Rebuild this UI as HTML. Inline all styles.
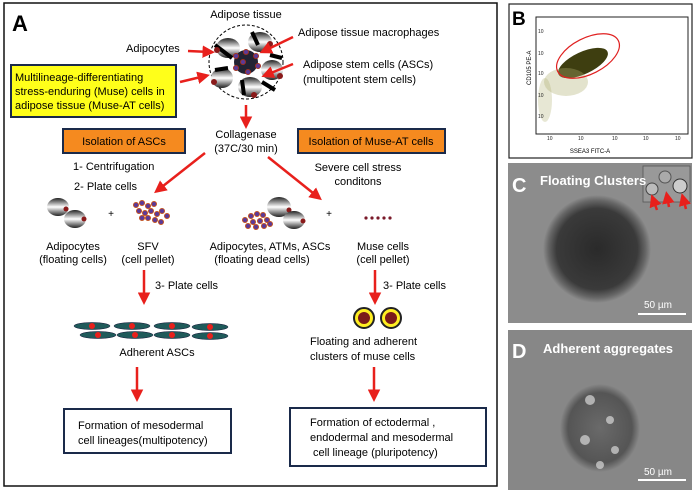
<!DOCTYPE html>
<html><head><meta charset="utf-8"><style>
html,body{margin:0;padding:0;background:#fff;}
svg{display:block;font-family:"Liberation Sans",Arial,sans-serif;}
</style></head><body>
<svg width="697" height="493" viewBox="0 0 697 493" xmlns="http://www.w3.org/2000/svg">
<defs>
<marker id="ah" markerWidth="5" markerHeight="5" refX="3" refY="2.5" orient="auto" markerUnits="strokeWidth">
<path d="M0,0 L5,2.5 L0,5 z" fill="#e8201c"/></marker>
<linearGradient id="sph" x1="0" y1="0" x2="0" y2="1">
<stop offset="0" stop-color="#222"/><stop offset="0.5" stop-color="#fff"/><stop offset="1" stop-color="#222"/></linearGradient>
<radialGradient id="blobC" cx="0.5" cy="0.5" r="0.5">
<stop offset="0" stop-color="#2a2a2a"/><stop offset="0.75" stop-color="#3a3a3a"/><stop offset="0.9" stop-color="#666"/><stop offset="1" stop-color="#8c8c8c"/></radialGradient>
<radialGradient id="blobD" cx="0.5" cy="0.5" r="0.5">
<stop offset="0" stop-color="#6a6a6a"/><stop offset="0.8" stop-color="#555"/><stop offset="1" stop-color="#878787"/></radialGradient>
</defs>
<rect x="4" y="3" width="493" height="483" fill="#fff" stroke="#111" stroke-width="1.5"/>
<text x="12" y="31" font-size="22" font-weight="bold">A</text>
<g font-size="11" fill="#000">
<text x="246" y="18" text-anchor="middle">Adipose tissue</text>
<text x="298" y="36">Adipose tissue  macrophages</text>
<text x="126" y="52">Adipocytes</text>
<text x="303" y="68">Adipose stem cells (ASCs)</text>
<text x="303" y="83">(multipotent stem cells)</text>
</g>
<circle cx="246" cy="62" r="37" fill="#fff" stroke="#000" stroke-dasharray="3,2"/>
<g>
<ellipse cx="228" cy="48" rx="12" ry="10" fill="url(#sph)"/>
<ellipse cx="260" cy="42" rx="12" ry="10" fill="url(#sph)"/>
<ellipse cx="272" cy="70" rx="11" ry="10" fill="url(#sph)"/>
<ellipse cx="250" cy="87" rx="12" ry="10" fill="url(#sph)"/>
<ellipse cx="222" cy="78" rx="11" ry="10" fill="url(#sph)"/>
<path d="M252,32 L258,45 M215,45 L232,58 M270,55 L282,58 M262,82 L275,90 M228,68 L215,70 M244,95 L242,80" stroke="#000" stroke-width="4"/>
<circle cx="246" cy="62" r="12" fill="#223" />
<g fill="#5a3a9a" stroke="#a03020" stroke-width="1">
<circle cx="236" cy="56" r="2.5"/><circle cx="246" cy="52" r="2.5"/><circle cx="256" cy="56" r="2.5"/><circle cx="258" cy="66" r="2.5"/><circle cx="248" cy="72" r="2.5"/><circle cx="236" cy="68" r="2.5"/><circle cx="243" cy="62" r="2.5"/>
</g>
<g fill="#8a1a1a"><circle cx="217" cy="50" r="3"/><circle cx="270" cy="44" r="3"/><circle cx="280" cy="76" r="3"/><circle cx="254" cy="95" r="3"/><circle cx="214" cy="82" r="3"/></g>
</g>
<g stroke="#e8201c" stroke-width="2.5" fill="none" marker-end="url(#ah)">
<line x1="188" y1="51" x2="210" y2="52"/>
<line x1="293" y1="37" x2="264" y2="51"/>
<line x1="293" y1="64" x2="266" y2="75"/>
<line x1="180" y1="82" x2="205" y2="76"/>
<line x1="246" y1="105" x2="246" y2="124"/>
<line x1="205" y1="153" x2="158" y2="190"/>
<line x1="268" y1="157" x2="318" y2="197"/>
<line x1="144" y1="270" x2="144" y2="300"/>
<line x1="375" y1="270" x2="375" y2="300"/>
<line x1="137" y1="367" x2="137" y2="397"/>
<line x1="374" y1="367" x2="374" y2="397"/>
</g>
<rect x="11" y="65" width="165" height="52" fill="#ffff1a" stroke="#1a2a4a" stroke-width="2"/>
<g font-size="11"><text x="15" y="81">Multilineage-differentiating</text>
<text x="15" y="95">stress-enduring (Muse) cells in</text>
<text x="15" y="109">adipose tissue (Muse-AT cells)</text></g>
<text x="246" y="138" font-size="11" text-anchor="middle">Collagenase</text>
<text x="246" y="152" font-size="11" text-anchor="middle">(37C/30 min)</text>
<rect x="63" y="129" width="122" height="24" fill="#f58a1f" stroke="#1a2a4a" stroke-width="2"/>
<text x="124" y="145" font-size="11" text-anchor="middle">Isolation of ASCs</text>
<rect x="298" y="129" width="147" height="24" fill="#f58a1f" stroke="#1a2a4a" stroke-width="2"/>
<text x="371" y="145" font-size="11" text-anchor="middle">Isolation of  Muse-AT cells</text>
<g font-size="11">
<text x="73" y="170">1- Centrifugation</text>
<text x="74" y="190">2- Plate cells</text>
<text x="358" y="171" text-anchor="middle">Severe cell stress</text>
<text x="358" y="185" text-anchor="middle">conditons</text>
</g>
<ellipse cx="58" cy="207" rx="11" ry="9" fill="url(#sph)"/><circle cx="66" cy="209" r="2.5" fill="#8a1a1a"/>
<ellipse cx="75" cy="219" rx="11" ry="9" fill="url(#sph)"/><circle cx="84" cy="219" r="2.5" fill="#8a1a1a"/>
<text x="111" y="217" font-size="10" text-anchor="middle">+</text>
<g fill="#5a3a9a" stroke="#c05020" stroke-width="1">
<circle cx="136" cy="205" r="2.5"/><circle cx="142" cy="203" r="2.5"/><circle cx="148" cy="206" r="2.5"/><circle cx="154" cy="204" r="2.5"/><circle cx="139" cy="211" r="2.5"/><circle cx="145" cy="213" r="2.5"/><circle cx="151" cy="211" r="2.5"/><circle cx="157" cy="214" r="2.5"/><circle cx="162" cy="211" r="2.5"/><circle cx="148" cy="218" r="2.5"/><circle cx="155" cy="220" r="2.5"/><circle cx="167" cy="216" r="2.5"/><circle cx="142" cy="218" r="2.5"/><circle cx="161" cy="222" r="2.5"/>
<circle cx="251" cy="216" r="2.5"/><circle cx="257" cy="214" r="2.5"/><circle cx="263" cy="215" r="2.5"/><circle cx="245" cy="220" r="2.5"/><circle cx="253" cy="222" r="2.5"/><circle cx="260" cy="221" r="2.5"/><circle cx="267" cy="220" r="2.5"/><circle cx="248" cy="226" r="2.5"/><circle cx="256" cy="227" r="2.5"/><circle cx="264" cy="226" r="2.5"/><circle cx="270" cy="224" r="2.5"/>
</g>
<ellipse cx="279" cy="207" rx="12" ry="10" fill="url(#sph)"/><circle cx="289" cy="210" r="2.5" fill="#8a1a1a"/>
<ellipse cx="294" cy="220" rx="11" ry="9" fill="url(#sph)"/><circle cx="303" cy="221" r="2.5" fill="#8a1a1a"/>
<text x="329" y="217" font-size="10" text-anchor="middle">+</text>
<g fill="#7a1a2a"><circle cx="366" cy="218" r="1.6"/><circle cx="372" cy="218" r="1.6"/><circle cx="378" cy="218" r="1.6"/><circle cx="384" cy="218" r="1.6"/><circle cx="390" cy="218" r="1.6"/></g>
<g font-size="11" text-anchor="middle">
<text x="73" y="250">Adipocytes</text><text x="73" y="263">(floating cells)</text>
<text x="148" y="250">SFV</text><text x="148" y="263">(cell pellet)</text>
<text x="270" y="250">Adipocytes, ATMs, ASCs</text><text x="262" y="263">(floating dead cells)</text>
<text x="383" y="250">Muse cells</text><text x="383" y="263">(cell pellet)</text>
</g>
<text x="155" y="289" font-size="11">3- Plate cells</text>
<text x="383" y="289" font-size="11">3- Plate cells</text>
<g fill="#1f5a5a" stroke="#113" stroke-width="0.5">
<ellipse cx="92" cy="326" rx="18" ry="3.5"/><ellipse cx="132" cy="326" rx="18" ry="3.5"/><ellipse cx="172" cy="326" rx="18" ry="3.5"/><ellipse cx="210" cy="327" rx="18" ry="3.5"/>
<ellipse cx="98" cy="335" rx="18" ry="3.5"/><ellipse cx="135" cy="335" rx="18" ry="3.5"/><ellipse cx="172" cy="335" rx="18" ry="3.5"/><ellipse cx="210" cy="336" rx="18" ry="3.5"/>
</g>
<g fill="#e8201c"><circle cx="92" cy="326" r="3"/><circle cx="132" cy="326" r="3"/><circle cx="172" cy="326" r="3"/><circle cx="210" cy="327" r="3"/><circle cx="98" cy="335" r="3"/><circle cx="135" cy="335" r="3"/><circle cx="172" cy="335" r="3"/><circle cx="210" cy="336" r="3"/></g>
<text x="157" y="356" font-size="11" text-anchor="middle">Adherent ASCs</text>
<g><circle cx="364" cy="318" r="10" fill="#ffee22" stroke="#222" stroke-width="2"/><circle cx="364" cy="318" r="6" fill="#7a1a1a"/>
<circle cx="391" cy="318" r="10" fill="#ffee22" stroke="#222" stroke-width="2"/><circle cx="391" cy="318" r="6" fill="#7a1a1a"/></g>
<text x="310" y="345" font-size="11">Floating and adherent</text>
<text x="310" y="360" font-size="11">clusters of muse cells</text>
<rect x="64" y="409" width="167" height="44" fill="#fff" stroke="#1a2a4a" stroke-width="2"/>
<text x="78" y="429" font-size="11">Formation of mesodermal</text>
<text x="78" y="444" font-size="11">cell  lineages(multipotency)</text>
<rect x="290" y="408" width="196" height="58" fill="#fff" stroke="#1a2a4a" stroke-width="2"/>
<text x="310" y="426" font-size="11">Formation of ectodermal ,</text>
<text x="310" y="441" font-size="11">endodermal  and  mesodermal</text>
<text x="313" y="456" font-size="11">cell  lineage  (pluripotency)</text>
<!-- Panel B -->
<rect x="509" y="4" width="183" height="154" fill="#fff" stroke="#222" stroke-width="1.2"/>
<rect x="536" y="17" width="152" height="117" fill="#fff" stroke="#222" stroke-width="1"/>
<text x="512" y="25" font-size="19" font-weight="bold">B</text>
<ellipse cx="583" cy="63" rx="27" ry="11" transform="rotate(-25 583 63)" fill="#3e3e10"/>
<ellipse cx="566" cy="82" rx="22" ry="14" fill="#b0b070" opacity="0.35"/>
<ellipse cx="545" cy="100" rx="7" ry="22" fill="#b0b070" opacity="0.3"/>
<ellipse cx="588" cy="56" rx="34" ry="18" transform="rotate(-27 588 56)" fill="none" stroke="#e02020" stroke-width="1.2"/>
<g font-size="5" fill="#222"><text x="538" y="33">10</text><text x="538" y="55">10</text><text x="538" y="75">10</text><text x="538" y="97">10</text><text x="538" y="118">10</text>
<text x="547" y="140">10</text><text x="578" y="140">10</text><text x="612" y="140">10</text><text x="643" y="140">10</text><text x="675" y="140">10</text></g>
<text x="531" y="85" font-size="6" transform="rotate(-90 531 85)">CD105 PE-A</text>
<text x="590" y="153" font-size="6" text-anchor="middle">SSEA3 FITC-A</text>
<!-- Panel C -->
<rect x="508" y="163" width="184" height="160" fill="#8c8c8c"/>
<circle cx="597" cy="249" r="54" fill="url(#blobC)"/>
<rect x="643" y="166" width="47" height="36" fill="#999" stroke="#555" stroke-width="0.8"/>
<circle cx="652" cy="189" r="6" fill="#bbb" stroke="#444"/><circle cx="665" cy="177" r="6" fill="#aaa" stroke="#555"/><circle cx="680" cy="186" r="7" fill="#ccc" stroke="#333"/>
<g stroke="#e8201c" stroke-width="2.5" marker-end="url(#ah)"><line x1="657" y1="210" x2="653" y2="199"/><line x1="669" y1="207" x2="667" y2="196"/><line x1="686" y1="209" x2="683" y2="198"/></g>
<text x="512" y="192" font-size="20" font-weight="bold" fill="#fff">C</text>
<text x="540" y="185" font-size="13" font-weight="bold" fill="#fff">Floating Clusters</text>
<text x="644" y="308" font-size="10" fill="#fff">50 µm</text>
<rect x="638" y="313" width="48" height="2" fill="#fff"/>
<!-- Panel D -->
<rect x="508" y="330" width="184" height="160" fill="#878787"/>
<ellipse cx="600" cy="428" rx="40" ry="44" fill="url(#blobD)"/>
<g fill="#d8d8d8" opacity="0.7"><circle cx="590" cy="400" r="5"/><circle cx="610" cy="420" r="4"/><circle cx="585" cy="440" r="5"/><circle cx="615" cy="450" r="4"/><circle cx="600" cy="465" r="4"/></g>
<text x="512" y="358" font-size="20" font-weight="bold" fill="#fff">D</text>
<text x="543" y="353" font-size="13" font-weight="bold" fill="#fff">Adherent aggregates</text>
<text x="644" y="475" font-size="10" fill="#fff">50 µm</text>
<rect x="638" y="479" width="48" height="2" fill="#fff"/>
</svg>
</body></html>
